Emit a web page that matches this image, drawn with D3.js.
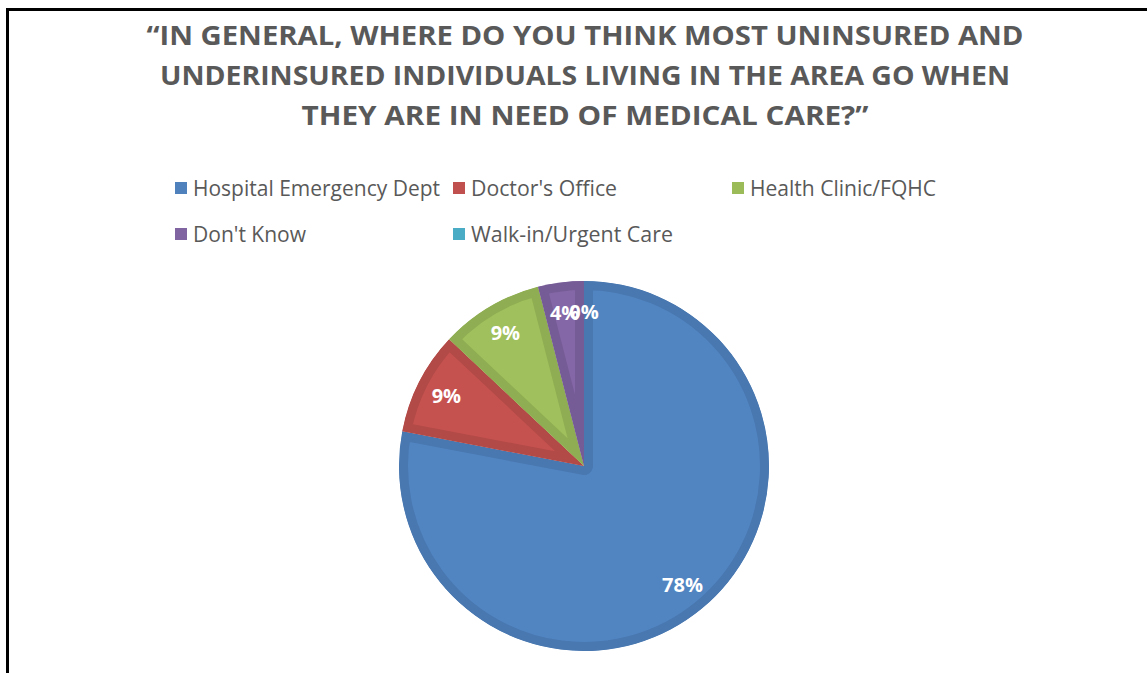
<!DOCTYPE html>
<html>
<head>
<meta charset="utf-8">
<script src="https://cdn.jsdelivr.net/npm/d3@7"></script>
<style>
  body { margin: 0; background: #fff; }
  svg { display: block; }
</style>
</head>
<body>
<div id="chart"></div>
<script>
var categories = ["Hospital Emergency Dept", "Doctor's Office", "Health Clinic/FQHC", "Don't Know", "Walk-in/Urgent Care"];
var values = [78, 9, 9, 4, 0];
var colors = ["#4F81BD", "#C0504D", "#9BBB59", "#8064A2", "#4BACC6"];
var titleLines = ["\u201CIN GENERAL, WHERE DO YOU THINK MOST UNINSURED AND",
                  "UNDERINSURED INDIVIDUALS LIVING IN THE AREA GO WHEN",
                  "THEY ARE IN NEED OF MEDICAL CARE?\u201D"];

var width = 1147, height = 673;
var cx = 584, cy = 466, radius = 185;

var svg = d3.select("#chart")
    .append("svg")
    .attr("width", width)
    .attr("height", height);

// frame of the chart box (right/bottom edges run off the page)
svg.append("path")
    .attr("d", "M7.5," + height + "V9.5H" + (width + 5))
    .attr("fill", "none")
    .attr("stroke", "#000")
    .attr("stroke-width", 3);

// title
var titleWidths = [877, 850, 567];
svg.append("g").selectAll("text")
    .data(titleLines)
    .enter()
    .append("text")
    .attr("x", 585)
    .attr("y", function(d, i) { return 45 + i * 40; })
    .attr("text-anchor", "middle")
    .attr("textLength", function(d, i) { return titleWidths[i]; })
    .attr("lengthAdjust", "spacingAndGlyphs")
    .style("font-family", "'Open Sans', sans-serif")
    .style("font-weight", "bold")
    .style("font-size", "27px")
    .style("fill", "#595959")
    .text(function(d) { return d; });

// legend
var legendPos = [[175, 188], [453, 188], [732, 188], [175, 234], [453, 234]];
var legendWidths = [247, 146, 186, 113, 202];
var legend = svg.append("g").selectAll("g")
    .data(categories)
    .enter()
    .append("g")
    .attr("transform", function(d, i) { return "translate(" + legendPos[i][0] + "," + legendPos[i][1] + ")"; });

legend.append("rect")
    .attr("x", 0)
    .attr("y", -6)
    .attr("width", 12)
    .attr("height", 12)
    .attr("fill", function(d, i) { return colors[i]; });

legend.append("text")
    .attr("x", 18)
    .attr("y", 8)
    .attr("textLength", function(d, i) { return legendWidths[i]; })
    .attr("lengthAdjust", "spacingAndGlyphs")
    .style("font-family", "'Open Sans', sans-serif")
    .style("font-size", "21px")
    .style("fill", "#595959")
    .text(function(d) { return d; });

// pie
var pie = d3.pie().sort(null).value(function(d) { return d; });
var arcs = pie(values);
var arc = d3.arc().innerRadius(0).outerRadius(radius);
var labelArc = d3.arc().innerRadius(radius * 0.835).outerRadius(radius * 0.835);

var defs = svg.append("defs");
defs.selectAll("clipPath")
    .data(arcs)
    .enter()
    .append("clipPath")
    .attr("id", function(d, i) { return "clip" + i; })
    .append("path")
    .attr("d", arc);

var pieG = svg.append("g").attr("transform", "translate(" + cx + "," + cy + ")");

var slices = pieG.selectAll("g.slice")
    .data(arcs)
    .enter()
    .append("g")
    .attr("class", "slice");

// darker inset rim drawn by clipping a wide stroke to the slice itself
slices.append("path")
    .attr("d", arc)
    .attr("clip-path", function(d, i) { return "url(#clip" + i + ")"; })
    .attr("fill", function(d, i) { return d3.color(colors[i]).brighter(0.08); })
    .attr("stroke", function(d, i) { return d3.color(colors[i]).darker(0.22); })
    .attr("stroke-width", 18)
    .attr("stroke-linejoin", "round");

pieG.selectAll("text.lbl")
    .data(arcs)
    .enter()
    .append("text")
    .attr("class", "lbl")
    .attr("transform", function(d) { return "translate(" + labelArc.centroid(d) + ")"; })
    .attr("text-anchor", "middle")
    .attr("dy", "0.35em")
    .style("font-family", "'Open Sans', sans-serif")
    .style("font-weight", "bold")
    .style("font-size", "20px")
    .style("fill", "#fff")
    .text(function(d) { return d.data + "%"; });
</script>
</body>
</html>
